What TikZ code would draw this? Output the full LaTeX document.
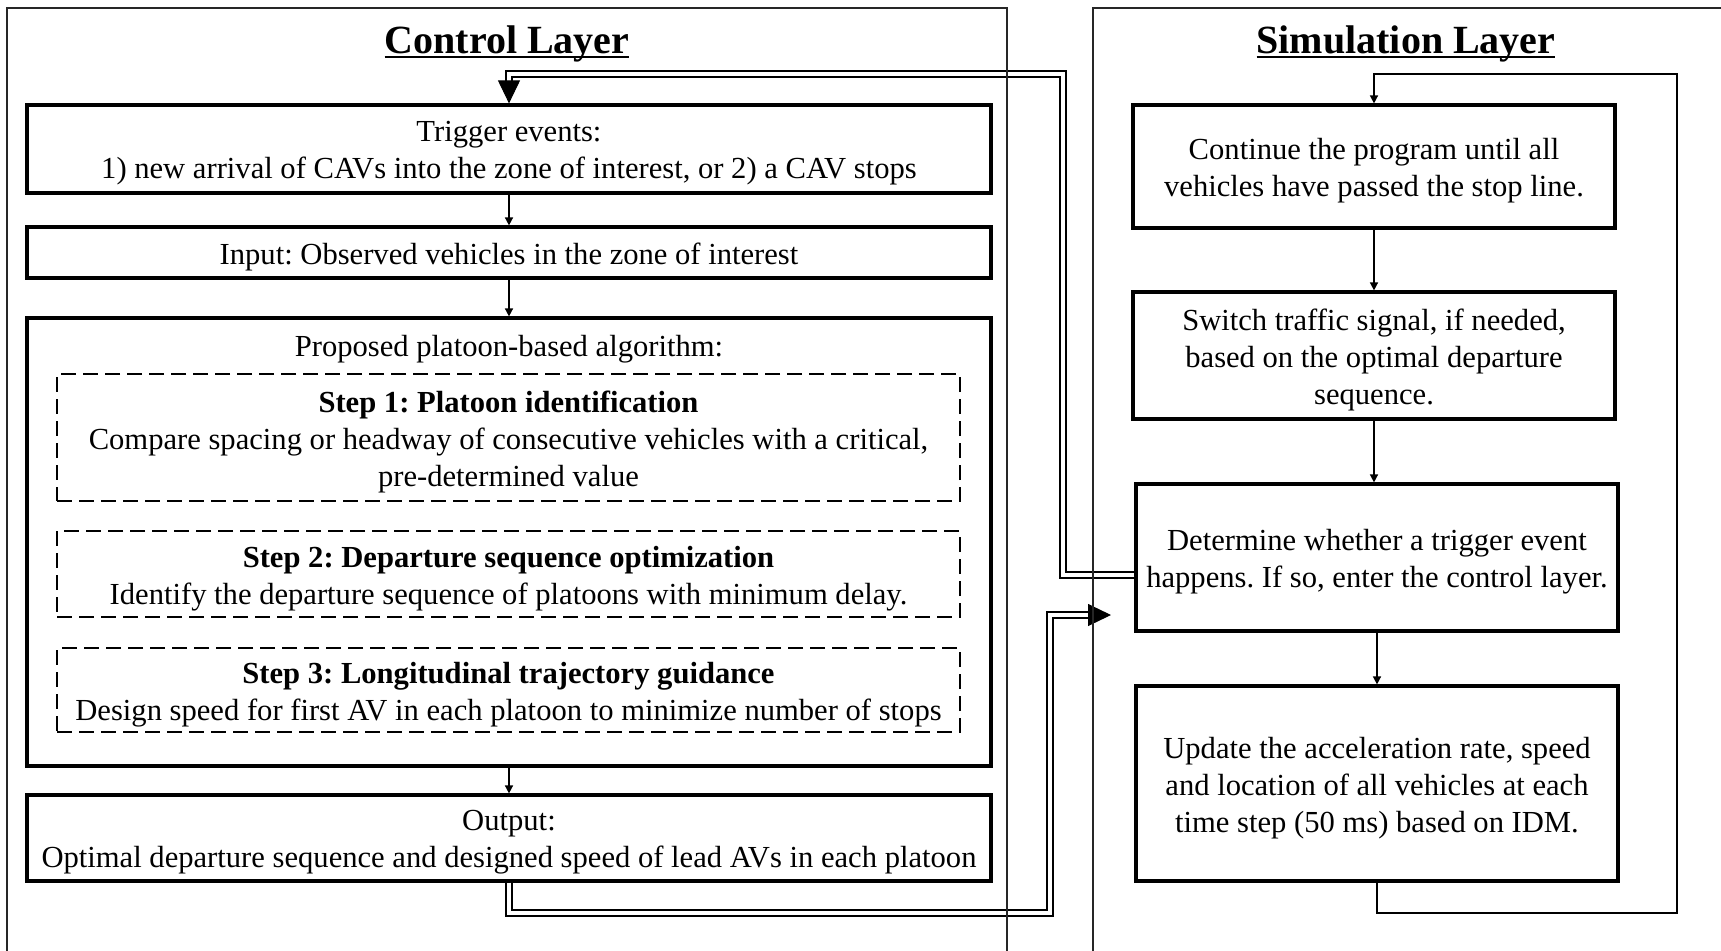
\documentclass[tikz,border=0pt]{standalone}
\usepackage{fontspec}
\setmainfont{Liberation Serif}
\usetikzlibrary{arrows.meta}
\newcommand\myul[1]{\setbox0\hbox{#1}\rlap{\rule[-0.13em]{\wd0}{0.06em}}\box0}
\frenchspacing
\begin{document}
\begin{tikzpicture}[x=0.5pt,y=-0.5pt,
  box/.style={draw, line width=1.6pt, inner sep=0pt},
  dbox/.style={draw, line width=0.7pt, dash pattern=on 7.5pt off 3.5pt, inner sep=0pt},
  txt/.style={align=center, inner sep=0pt, font=\fontsize{15.3}{18.5}\selectfont},
  ttl/.style={inner sep=0pt, font=\fontsize{20}{24}\selectfont\bfseries},
  arr/.style={line width=0.75pt, -{Triangle[length=4pt,width=4pt]}},
  dbl/.style={line width=0.8pt, double distance=2pt},
  bigtip/.style={line width=0.5pt, -{Triangle[length=11.5pt,width=11pt]}},
  layerframe/.style={line width=0.55pt, draw=black!85}
]
\useasboundingbox (0,0) rectangle (1721,950);

% titles
\node[ttl, anchor=base] (t1) at (507,53) {\myul{Control Layer}};
\node[ttl, anchor=base] (t2) at (1406,53) {\myul{Simulation Layer}};

% control layer boxes
\node[box, minimum width=482pt, minimum height=44pt] (trig) at (509,149) {};
\node[txt] (trigT) at ([yshift=-2.3pt]trig.center)
  {Trigger events:\\1) new arrival of CAVs into the zone of interest, or 2) a CAV stops};
\node[box, minimum width=482pt, minimum height=25.5pt] (inp) at (509,252.5) {};
\node[txt] (inpT) at ([yshift=-2.3pt]inp.center)
  {Input: Observed vehicles in the zone of interest};
\node[box, minimum width=482pt, minimum height=224pt] (alg) at (509,542) {};
\node[txt] (algT) at (509,349) {Proposed platoon-based algorithm:};
\node[dbox, minimum width=451.5pt, minimum height=63.5pt] (s1) at (508.5,437.5) {};
\node[txt] (s1T) at ([yshift=-2.3pt]s1.center)
  {{\bfseries Step 1: Platoon identification}\\Compare spacing or headway of consecutive vehicles with a critical,\\pre-determined value};
\node[dbox, minimum width=451.5pt, minimum height=43pt] (s2) at (508.5,574) {};
\node[txt] (s2T) at ([yshift=-2.3pt]s2.center)
  {{\bfseries Step 2: Departure sequence optimization}\\Identify the departure sequence of platoons with minimum delay.};
\node[dbox, minimum width=451.5pt, minimum height=42pt] (s3) at (508.5,690) {};
\node[txt] (s3T) at ([yshift=-2.3pt]s3.center)
  {{\bfseries Step 3: Longitudinal trajectory guidance}\\Design speed for first AV in each platoon to minimize number of stops};
\node[box, minimum width=482pt, minimum height=43pt] (out) at (509,838) {};
\node[txt] (outT) at ([yshift=-2.3pt]out.center)
  {Output:\\Optimal departure sequence and designed speed of lead AVs in each platoon};

% simulation layer boxes
\node[box, minimum width=241pt, minimum height=61.5pt] (b1) at (1374,166.5) {};
\node[txt] (b1T) at ([yshift=-2.3pt]b1.center)
  {Continue the program until all\\vehicles have passed the stop line.};
\node[box, minimum width=241pt, minimum height=63.5pt] (b2) at (1374,355.5) {};
\node[txt] (b2T) at ([yshift=-2.3pt]b2.center)
  {Switch traffic signal, if needed,\\based on the optimal departure\\sequence.};
\node[box, minimum width=241pt, minimum height=73.5pt] (b3) at (1377,557.5) {};
\node[txt] (b3T) at ([yshift=-2.3pt]b3.center)
  {Determine whether a trigger event\\happens. If so, enter the control layer.};
\node[box, minimum width=241pt, minimum height=97.5pt] (b4) at (1377,783.5) {};
\node[txt] (b4T) at ([yshift=-2.3pt]b4.center)
  {Update the acceleration rate, speed\\and location of all vehicles at each\\time step (50 ms) based on IDM.};

% control arrows
\draw[arr] (trig.south) -- (inp.north);
\draw[arr] (inp.south) -- (alg.north);
\draw[arr] (alg.south) -- (out.north);

% simulation arrows
\draw[arr] (b1.south) -- (b2.north);
\draw[arr] (b2.south) -- (b2.south |- b3.north);
\draw[arr] (b3.south) -- (b4.north);
\coordinate (lpA) at (1677,913);
\coordinate (lpB) at (1677,74);
\draw[arr] (b4.south) |- (lpA) -- (lpB) -| (b1.north);

% double connector: simulation -> control
\coordinate (c1) at (1063,575);
\coordinate (c2) at (1063,74);
\coordinate (c3) at (509,74);
\coordinate (c4) at (509,81);
\draw[dbl] (b3.west |- c1) -- (c1) -- (c2) -- (c3) -- (c4);
\draw[bigtip] (c4) -- (trig.north);

% double connector: control -> simulation
\coordinate (e1) at (509,913);
\coordinate (e2) at (1050,913);
\coordinate (e3) at (1050,615);
\coordinate (e4) at (1088,615);
\coordinate (tip2) at (1111,615);
\draw[dbl] (out.south) -- (e1) -- (e2) -- (e3) -- (e4);
\draw[bigtip] (e4) -- (tip2);

% layer frames
\draw[layerframe] (7,960) -- (7,8) -- (1007,8) -- (1007,960);
\draw[layerframe] (1093,960) -- (1093,8) -- (1730,8);
\end{tikzpicture}
\end{document}
